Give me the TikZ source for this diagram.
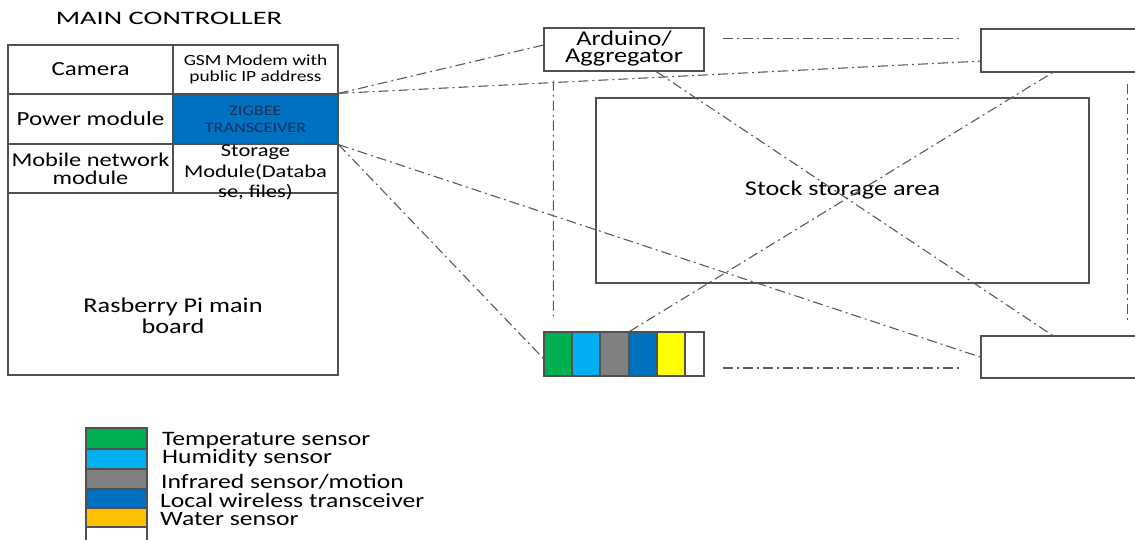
\documentclass[tikz,border=0pt]{standalone}
\usepackage{fontspec}
\setmainfont{Carlito}[FakeStretch=1.25]
\newfontfamily\titlefont{Carlito}[FakeStretch=1.5]
\usetikzlibrary{calc}
\definecolor{boxc}{HTML}{505050}
\definecolor{linec}{HTML}{5A5A5A}
\definecolor{sgreen}{HTML}{00B050}
\definecolor{slblue}{HTML}{00B0F0}
\definecolor{sgray}{HTML}{808080}
\definecolor{sblue}{HTML}{0070C0}
\definecolor{syellow}{HTML}{FFFF00}
\definecolor{sorange}{HTML}{FFC000}
\definecolor{navy}{HTML}{16305A}
\tikzset{
  box/.style={draw=boxc, line width=1.3pt, inner sep=0pt, align=center, fill=white},
  swatch/.style={draw=boxc, line width=1.2pt, inner sep=0pt},
  link/.style={draw=linec, line width=1.1pt, dash pattern=on 10pt off 4pt on 2pt off 4pt},
  plain/.style={inner sep=0pt, align=center},
  fA/.style={font=\fontsize{20}{18}\selectfont},
  fG/.style={font=\fontsize{15.5}{16.5}\selectfont},
  fZ/.style={font=\fontsize{14.5}{17}\selectfont},
  fM/.style={font=\fontsize{19.5}{18}\selectfont},
  fS/.style={font=\fontsize{18}{20.5}\selectfont},
  fR/.style={font=\fontsize{21}{21}\selectfont},
  fAr/.style={font=\fontsize{21}{17}\selectfont},
  fL/.style={font=\fontsize{21}{21}\selectfont},
  leg/.style={inner sep=0pt, anchor=base west, font=\fontsize{20.5}{20}\selectfont},
}
\begin{document}
\begin{tikzpicture}[x=1pt,y=-1pt]
\clip (0,0) rectangle (1135,539);
\fill[white] (0,0) rectangle (1135,539);

% title
\node[font=\titlefont\fontsize{19}{19}\selectfont, anchor=base, inner sep=0pt] (title) at (169,24.5) {MAIN CONTROLLER};

% main controller cells
\node[box, minimum width=165, minimum height=49, fA] (cam) at (90.5,69.5) {Camera};
\node[box, minimum width=165, minimum height=49, fG] (gsm) at (255.5,69.5) {GSM Modem with\\public IP address};
\node[box, minimum width=165, minimum height=50, fA] (pow) at (90.5,119) {Power module};
\node[box, fill=sblue, minimum width=165, minimum height=50, fZ, text=navy] (zig) at (255.5,119) {ZIGBEE\\TRANSCEIVER};
\node[box, minimum width=165, minimum height=49, fM] (mob) at (90.5,169) {Mobile network\\module};
\node[box, minimum width=165, minimum height=49] (sto) at (255.5,168.5) {};
\node[box, minimum width=330, minimum height=182] (rpi) at (173,284) {};
\node[plain, fS] (stot) at (255.5,172.5) {Storage\\Module(Databa\\se, files)};
\node[plain, fR] (rpit) at (173,316) {Rasberry Pi main\\board};

% field elements
\node[box, minimum width=160, minimum height=43] (ard) at (624,49.5) {};
\node[plain, fAr] (ardt) at (624,48.5) {Arduino/\\Aggregator};
\node[box, minimum width=159, minimum height=43] (rt) at (1060.5,50.5) {};
\node[box, minimum width=159, minimum height=42] (rb) at (1060.5,357) {};
\node[box, fill=none, minimum width=493, minimum height=185, fL] (stock) at (842.5,190.5) {Stock storage area};

% sensor strip
\node[swatch, fill=sgreen, minimum width=28, minimum height=44] (s1) at (558,354) {};
\node[swatch, fill=slblue, minimum width=28, minimum height=44] (s2) at (586,354) {};
\node[swatch, fill=sgray, minimum width=29, minimum height=44] (s3) at (614.5,354) {};
\node[swatch, fill=sblue, minimum width=28, minimum height=44] (s4) at (643,354) {};
\node[swatch, fill=syellow, minimum width=28, minimum height=44] (s5) at (671,354) {};
\node[swatch, fill=white, minimum width=19, minimum height=44] (s6) at (694.5,354) {};

% connectors
\draw[link] (zig.north east) -- ($(ard.north west)!0.4!(ard.south west)$);
\draw[link] (zig.north east) -- ($(rt.north west)!0.74!(rt.south west)$);
\draw[link] (zig.south east) -- ($(s1.north west)!0.6!(s1.south west)$);
\draw[link] (zig.south east) -- ($(rb.north west)!0.5!(rb.south west)$);
\draw[link] ($(ard.south west)!0.7!(ard.south east)$) -- ($(rb.north west)!0.45!(rb.north east)$);
\draw[link] (s3.north east) -- ($(rt.south west)!0.45!(rt.south east)$);
\draw[link] ($(ard.east)+(18,-11)$) -- ($(rt.west)+(-18,-12)$);
\draw[link] ($(s6.east)+(18,14)$) -- ($(rb.west)+(-18,11)$);
\draw[link] ($(ard.south west)+(10,9)$) -- ($(s1.north west)+(10,-15)$);
\draw[link] ($(rt.south east)+(-13,11)$) -- ($(rb.north east)+(-13,-13)$);

% legend
\node[swatch, fill=sgreen, minimum width=61, minimum height=21] (l1) at (116.5,438.5) {};
\node[swatch, fill=slblue, minimum width=61, minimum height=20] (l2) at (116.5,459) {};
\node[swatch, fill=sgray, minimum width=61, minimum height=20] (l3) at (116.5,479) {};
\node[swatch, fill=sblue, minimum width=61, minimum height=19] (l4) at (116.5,498.5) {};
\node[swatch, fill=sorange, minimum width=61, minimum height=19] (l5) at (116.5,517.5) {};
\node[swatch, fill=white, minimum width=61, minimum height=20] (l6) at (116.5,537) {};
\node[leg] (t1) at (162,445) {Temperature sensor};
\node[leg] (t2) at (162,463) {Humidity sensor};
\node[leg] (t3) at (161,488) {Infrared sensor/motion};
\node[leg] (t4) at (160,507) {Local wireless transceiver};
\node[leg] (t5) at (160,525) {Water sensor};
\end{tikzpicture}
\end{document}
